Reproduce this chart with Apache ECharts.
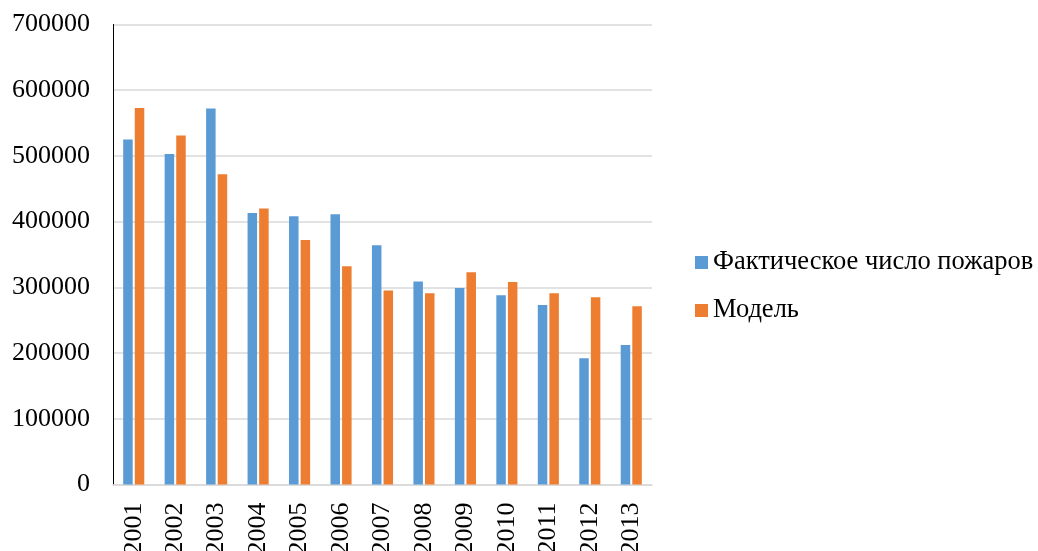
<!DOCTYPE html>
<html>
<head>
<meta charset="utf-8">
<script src="https://cdn.jsdelivr.net/npm/echarts@6/dist/echarts.min.js"></script>
<style>
  html, body { margin: 0; padding: 0; background: #fff; }
  #chart { width: 1038px; height: 551px; }
</style>
</head>
<body>
<div id="chart"></div>
<script>
// Years on the category axis
const years = ['2001', '2002', '2003', '2004', '2005', '2006', '2007',
               '2008', '2009', '2010', '2011', '2012', '2013'];

// Actual number of fires per year
const actualFires = [525000, 503000, 572000, 413000, 408000, 411000, 364000,
                     309000, 299000, 288000, 273000, 192000, 212000];

// Model estimate per year
const modelFires = [573000, 531000, 472000, 420000, 372000, 332000, 295000,
                    291000, 323000, 308000, 291000, 285000, 271000];

const seriesNames = ['Фактическое число пожаров', 'Модель'];

const serif = "'Liberation Serif', 'Times New Roman', serif";

const chart = echarts.init(document.getElementById('chart'), null, { renderer: 'canvas' });

chart.setOption({
  animation: false,
  backgroundColor: '#ffffff',
  grid: {
    left: 113, right: 386, top: 24.5, bottom: 66.6,
    containLabel: false,
    outerBoundsMode: 'none'
  },
  legend: {
    orient: 'vertical',
    left: 695,
    top: 249,
    padding: 0,
    icon: 'rect',
    itemWidth: 13,
    itemHeight: 13,
    itemGap: 21,
    itemStyle: { borderWidth: 0 },
    textStyle: { fontFamily: serif, fontSize: 26.5, color: '#000', lineHeight: 26 },
    data: seriesNames
  },
  xAxis: {
    type: 'category',
    data: years,
    axisTick: { show: false },
    axisLine: { lineStyle: { color: '#D9D9D9', width: 1.5 } },
    axisLabel: {
      rotate: 90,
      margin: 18,
      interval: 0,
      fontFamily: serif,
      fontSize: 26,
      color: '#000'
    }
  },
  yAxis: {
    type: 'value',
    min: 0,
    max: 700000,
    interval: 100000,
    axisLine: { show: true, lineStyle: { color: '#000', width: 1 } },
    axisTick: { show: false },
    splitLine: { lineStyle: { color: '#D9D9D9', width: 1.5 } },
    axisLabel: {
      margin: 23,
      fontFamily: serif,
      fontSize: 26,
      color: '#000',
      formatter: (v) => String(v)
    }
  },
  series: [
    {
      name: seriesNames[0],
      type: 'bar',
      data: actualFires,
      barWidth: 9.5,
      barGap: '22%',
      itemStyle: { color: '#5B9BD5' }
    },
    {
      name: seriesNames[1],
      type: 'bar',
      data: modelFires,
      barWidth: 9.5,
      itemStyle: { color: '#ED7D31' }
    }
  ]
});
</script>
</body>
</html>
